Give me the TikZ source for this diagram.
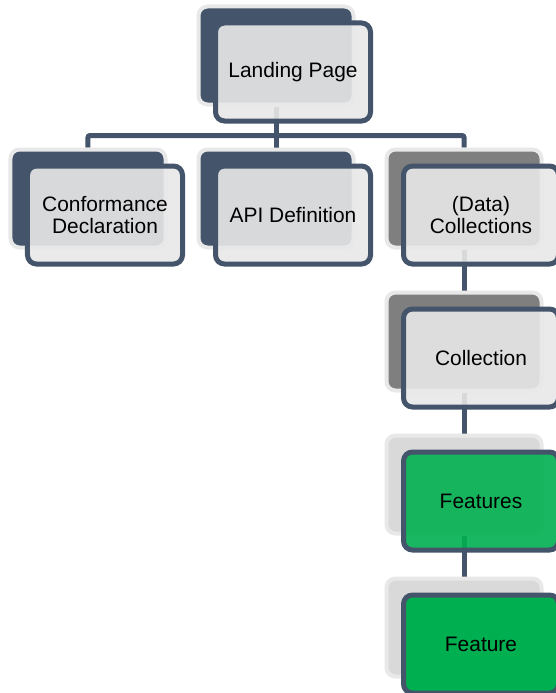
\documentclass[tikz,border=0pt]{standalone}
\usepackage{fontspec}
\setmainfont{Liberation Sans}
\usepackage{tikz}
\usetikzlibrary{positioning,backgrounds}

\definecolor{slate}{HTML}{44546A}
\definecolor{rim}{HTML}{E8E8E8}
\definecolor{paper}{HTML}{E8E8E8}
\definecolor{midgray}{HTML}{7F7F7F}
\definecolor{palegray}{HTML}{D9D9D9}
\definecolor{leaf}{HTML}{00B050}

\begin{document}
\begin{tikzpicture}[
  x=1bp, y=1bp,
  node distance=41bp and 29bp,
  backbox/.style={rectangle, rounded corners=9bp, draw=rim, line width=4bp, fill=#1, minimum width=155bp, minimum height=98bp},
  card/.style={rectangle, rounded corners=9bp, draw=slate, line width=5bp, fill=#1, fill opacity=0.9, text opacity=1, minimum width=155bp, minimum height=98bp, align=center, font=\fontsize{21}{22.5}\selectfont},
  link/.style={draw=slate, line width=5bp, rounded corners=2bp}
]
\useasboundingbox (0,0) rectangle (556,-693);

\node[backbox=slate] (land-s) at (276,-55.5) {};
\node[card=paper] (land) at ([shift={(17,-16.5)}]land-s.center) {Landing Page};

\node[backbox=slate, below=of land-s] (api-s) {};
\node[card=paper] (api) at ([shift={(17,-16.5)}]api-s.center) {API Definition};

\node[backbox=slate, left=of api-s] (conf-s) {};
\node[card=paper] (conf) at ([shift={(17,-16.5)}]conf-s.center) {Conformance\\Declaration};

\node[backbox=midgray, right=of api-s] (colls-s) {};
\node[card=paper] (colls) at ([shift={(17,-16.5)}]colls-s.center) {(Data)\\Collections};

\node[backbox=midgray, below=of colls-s] (coll-s) {};
\node[card=paper] (coll) at ([shift={(17,-16.5)}]coll-s.center) {Collection};

\node[backbox=palegray, below=of coll-s] (feats-s) {};
\node[card=leaf] (feats) at ([shift={(17,-16.5)}]feats-s.center) {Features};

\node[backbox=palegray, below=of feats-s] (feat-s) {};
\node[card=leaf, fill opacity=1] (feat) at ([shift={(17,-16.5)}]feat-s.center) {Feature};

\begin{scope}[on background layer]
\fill[white] (0,0) rectangle (556,-693);
\draw[link] (land-s.south) -- (api-s.north);
\draw[link] (land-s.south) ++(0,-29) -| (conf-s.north);
\draw[link] (land-s.south) ++(0,-29) -| (colls-s.north);
\draw[link] (colls-s) -- (coll-s);
\draw[link] (coll-s) -- (feats-s);
\draw[link] (feats-s) -- (feat-s);
\end{scope}
\end{tikzpicture}
\end{document}
